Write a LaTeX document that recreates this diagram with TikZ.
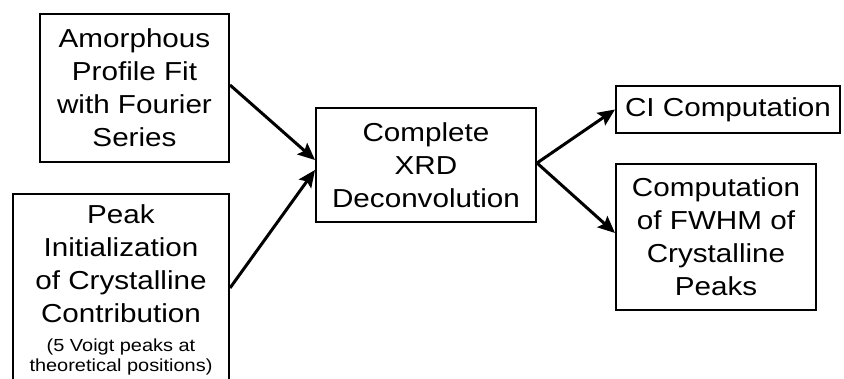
\documentclass[tikz,border=0pt]{standalone}
\usepackage{fontspec}
\setmainfont[FakeStretch=1.14]{Liberation Sans}
\usetikzlibrary{arrows.meta}
\begin{document}
\begin{tikzpicture}[x=1pt,y=-1pt,
  box/.style={draw,line width=2pt,rectangle,inner sep=0pt,align=center,
    font=\fontsize{26}{33}\selectfont},
  flow/.style={line width=3pt,-{Stealth[length=17pt,width=15pt,inset=3pt]}}]
\useasboundingbox (0,0) rectangle (844,378);
\clip (0,0) rectangle (844,378);
\node[box,minimum width=189pt,minimum height=148pt] (amor) at (134.5,88)
  {Amorphous\\Profile Fit\\with Fourier\\Series};
\node[box,minimum width=216pt,minimum height=192pt] (peak) at (121,290)
  {Peak\\Initialization\\of Crystalline\\Contribution\\[-4pt]
   {\fontsize{17.5}{20}\selectfont (5 Voigt peaks at}\\[-13pt]
   {\fontsize{17.5}{20}\selectfont theoretical positions)}};
\node[box,minimum width=220pt,minimum height=114pt] (xrd) at (426,165)
  {Complete\\XRD\\Deconvolution};
\node[box,minimum width=224pt,minimum height=47pt] (ci) at (728,109.5)
  {CI Computation};
\node[box,minimum width=200pt,minimum height=146pt] (fwhm) at (716,237)
  {Computation\\of FWHM of\\Crystalline\\Peaks};
\draw[flow] ([yshift=3pt]amor.east) -- ([yshift=5pt]xrd.west);
\draw[flow] ([yshift=2pt]peak.east) -- ([yshift=-5pt]xrd.west);
\draw[flow] ([yshift=2pt]xrd.east) -- (ci.west);
\draw[flow] ([yshift=2pt]xrd.east) -- ([yshift=4pt]fwhm.west);
\end{tikzpicture}
\end{document}
